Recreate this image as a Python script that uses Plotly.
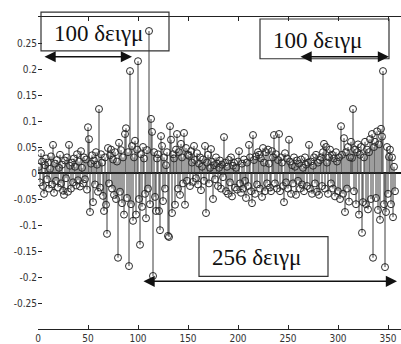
import plotly.graph_objects as go

# ---- data ----
values = [
    0.012, -0.018, 0.038, 0.022, -0.025, -0.040, 0.015, 0.028, -0.012, 0.020,
    -0.030, 0.008, 0.032, -0.022, 0.054, -0.038, 0.018, -0.015, 0.025, -0.028,
    0.010, 0.035, -0.020, 0.016, -0.034, -0.042, 0.024, -0.010, 0.030, -0.036,
    0.054, 0.014, -0.030, 0.020, -0.018, 0.028, 0.012, -0.024, 0.036, -0.014,
    0.022, -0.026, 0.042, 0.010, -0.020, 0.030, -0.012, 0.026, -0.032, 0.088,
    0.065, -0.075, 0.018, 0.034, -0.056, 0.024, -0.022, 0.040, 0.016, -0.036,
    0.123, -0.028, 0.036, 0.020, -0.044, -0.073, 0.030, -0.061, -0.117, 0.048,
    -0.020, 0.034, 0.045, -0.030, 0.026, -0.042, 0.040, -0.050, 0.022, -0.163,
    0.058, -0.036, 0.044, -0.058, 0.030, -0.080, 0.075, 0.086, -0.048, 0.040,
    -0.179, 0.196, -0.060, 0.052, -0.092, 0.030, 0.062, -0.080, 0.045, 0.215,
    -0.050, -0.138, 0.036, -0.065, 0.050, 0.028, -0.040, -0.087, 0.044, -0.030,
    0.273, -0.060, 0.104, 0.079, -0.198, 0.040, -0.046, -0.073, 0.028, 0.036,
    -0.073, -0.110, 0.071, 0.052, -0.054, 0.030, -0.030, 0.015, 0.040, -0.121,
    -0.123, 0.090, 0.064, -0.077, 0.036, 0.028, -0.061, 0.045, 0.075, -0.030,
    0.040, -0.042, 0.056, 0.030, -0.020, 0.077, -0.061, 0.048, -0.015, 0.035,
    0.033, -0.025, 0.042, 0.020, -0.017, 0.052, 0.025, -0.010, 0.038, -0.022,
    0.018, 0.030, -0.033, 0.012, 0.026, -0.015, 0.052, -0.077, 0.020, 0.035,
    -0.020, 0.010, 0.046, 0.022, -0.050, 0.015, -0.012, 0.030, 0.018, -0.025,
    0.010, 0.024, -0.030, 0.016, -0.008, 0.069, 0.020, -0.035, 0.012, -0.040,
    0.025, -0.018, 0.030, -0.045, 0.014, 0.020, -0.028, 0.010, -0.032, 0.022,
    0.042, -0.020, -0.038, 0.018, -0.030, 0.026, -0.015, -0.048, 0.020, -0.025,
    0.054, 0.030, -0.035, -0.058, 0.073, 0.025, -0.040, 0.032, -0.022, 0.040,
    0.035, -0.030, 0.028, -0.046, 0.048, 0.020, -0.035, 0.040, -0.020, 0.045,
    0.018, -0.028, -0.035, 0.042, 0.030, 0.073, -0.020, 0.036, -0.030, 0.025,
    0.075, -0.035, 0.030, 0.020, -0.025, -0.056, 0.038, -0.018, 0.028, -0.030,
    0.064, 0.022, -0.040, 0.015, -0.020, 0.030, 0.012, -0.042, 0.024, -0.015,
    0.018, -0.030, 0.026, -0.022, 0.010, -0.035, 0.030, 0.016, -0.025, 0.020,
    0.054, -0.030, 0.022, -0.040, 0.014, 0.030, -0.020, 0.035, -0.036, 0.020,
    -0.042, 0.025, 0.030, -0.025, 0.040, 0.056, -0.030, 0.050, 0.020, -0.040,
    0.030, 0.045, -0.020, 0.035, -0.030, 0.028, -0.045, 0.040, 0.022, -0.035,
    0.030, -0.050, 0.090, 0.035, -0.040, 0.067, -0.075, 0.040, -0.030, 0.050,
    -0.055, 0.030, 0.060, 0.029, 0.123, -0.035, 0.045, -0.060, 0.040, 0.055,
    -0.080, 0.035, 0.050, -0.115, -0.056, 0.030, 0.060, -0.060, 0.045, -0.070,
    0.040, 0.065, -0.050, 0.075, -0.163, 0.050, 0.060, -0.048, 0.080, -0.071,
    0.055, -0.090, 0.085, 0.070, 0.196, -0.060, -0.181, -0.075, 0.050, -0.040,
    0.031, 0.045, -0.060, 0.030, -0.085, 0.012, -0.035,
]
samples = list(range(1, len(values) + 1))

x_ticks = [0, 50, 100, 150, 200, 250, 300, 350]
y_ticks = [-0.25, -0.2, -0.15, -0.1, -0.05, 0, 0.05, 0.1, 0.15, 0.2, 0.25]
y_labels = ["-0.25", "-0.2", "-0.15", "-0.1", "-0.05", "0", "0.05", "0.1", "0.15", "0.2", "0.25"]

label_text = ["100 δειγμ", "100 δειγμ", "256 δειγμ"]

# ---- layout geometry (pixels) ----
W, H = 401, 344
L, R, T, B = 38, 401, 17, 331


def px(x):
    return (x - L) / (R - L)


def py(y):
    return (B - y) / (B - T)


# stems
sx, sy = [], []
for n, v in zip(samples, values):
    sx += [n, n, None]
    sy += [0, v, None]

fig = go.Figure()
fig.add_trace(go.Scatter(x=sx, y=sy, mode="lines",
                         line=dict(color="#3c3c3c", width=1),
                         hoverinfo="skip", showlegend=False))
fig.add_trace(go.Scatter(x=samples, y=values, mode="markers",
                         marker=dict(symbol="circle-open", size=7,
                                     line=dict(color="#2a2a2a", width=1),
                                     color="#2a2a2a"),
                         showlegend=False))

tick_font = dict(family="DejaVu Sans Condensed", size=10, color="#333333")

fig.update_layout(
    width=W, height=H,
    margin=dict(l=L, r=W - R, t=T, b=H - B, pad=0),
    paper_bgcolor="white", plot_bgcolor="white",
    xaxis=dict(range=[0, (R - L)], tickvals=x_ticks, ticks="inside", ticklen=4,
               tickcolor="#222", showline=True, linecolor="#222", linewidth=1,
               mirror="ticks", showgrid=False, zeroline=False, tickfont=tick_font),
    yaxis=dict(range=[-0.3, 0.3], tickvals=y_ticks, ticktext=y_labels,
               ticks="inside", ticklen=4, tickcolor="#222", showline=False,
               showgrid=False, zeroline=True, zerolinecolor="#111",
               zerolinewidth=1.5, tickfont=tick_font),
)

serif = dict(family="Liberation Serif", size=23, color="#111")

# boxes
boxes = [(41, 12, 169, 51), (260, 19, 389, 59), (199, 238, 328, 278)]
for (x0, y0, x1, y1) in boxes:
    fig.add_shape(type="rect", xref="paper", yref="paper",
                  x0=px(x0), x1=px(x1), y0=py(y1), y1=py(y0),
                  line=dict(color="#333", width=1.2), fillcolor="rgba(0,0,0,0)",
                  layer="above")

# box texts
text_pos = [(98, 34), (317, 41), (256, 259)]
for t, (cx, cy) in zip(label_text, text_pos):
    fig.add_annotation(xref="paper", yref="paper", x=px(cx), y=py(cy),
                       text=t, showarrow=False, font=serif,
                       xanchor="center", yanchor="middle")

# double-headed arrows
arrows = [(43, 132, 57), (299, 389, 57), (142, 397, 283)]
for (xa, xb, yy) in arrows:
    fig.add_annotation(xref="paper", yref="paper", x=px(xb), y=py(yy),
                       ax=-(xb - xa), ay=0, text="", showarrow=True,
                       arrowhead=2, arrowside="end+start", arrowsize=1.4,
                       arrowwidth=1.6, arrowcolor="#111", standoff=0,
                       startstandoff=0, startarrowhead=2, startarrowsize=1.4)

fig.write_html("out.html", post_script="document.body.style.margin='0';",
               config={"displayModeBar": False})
